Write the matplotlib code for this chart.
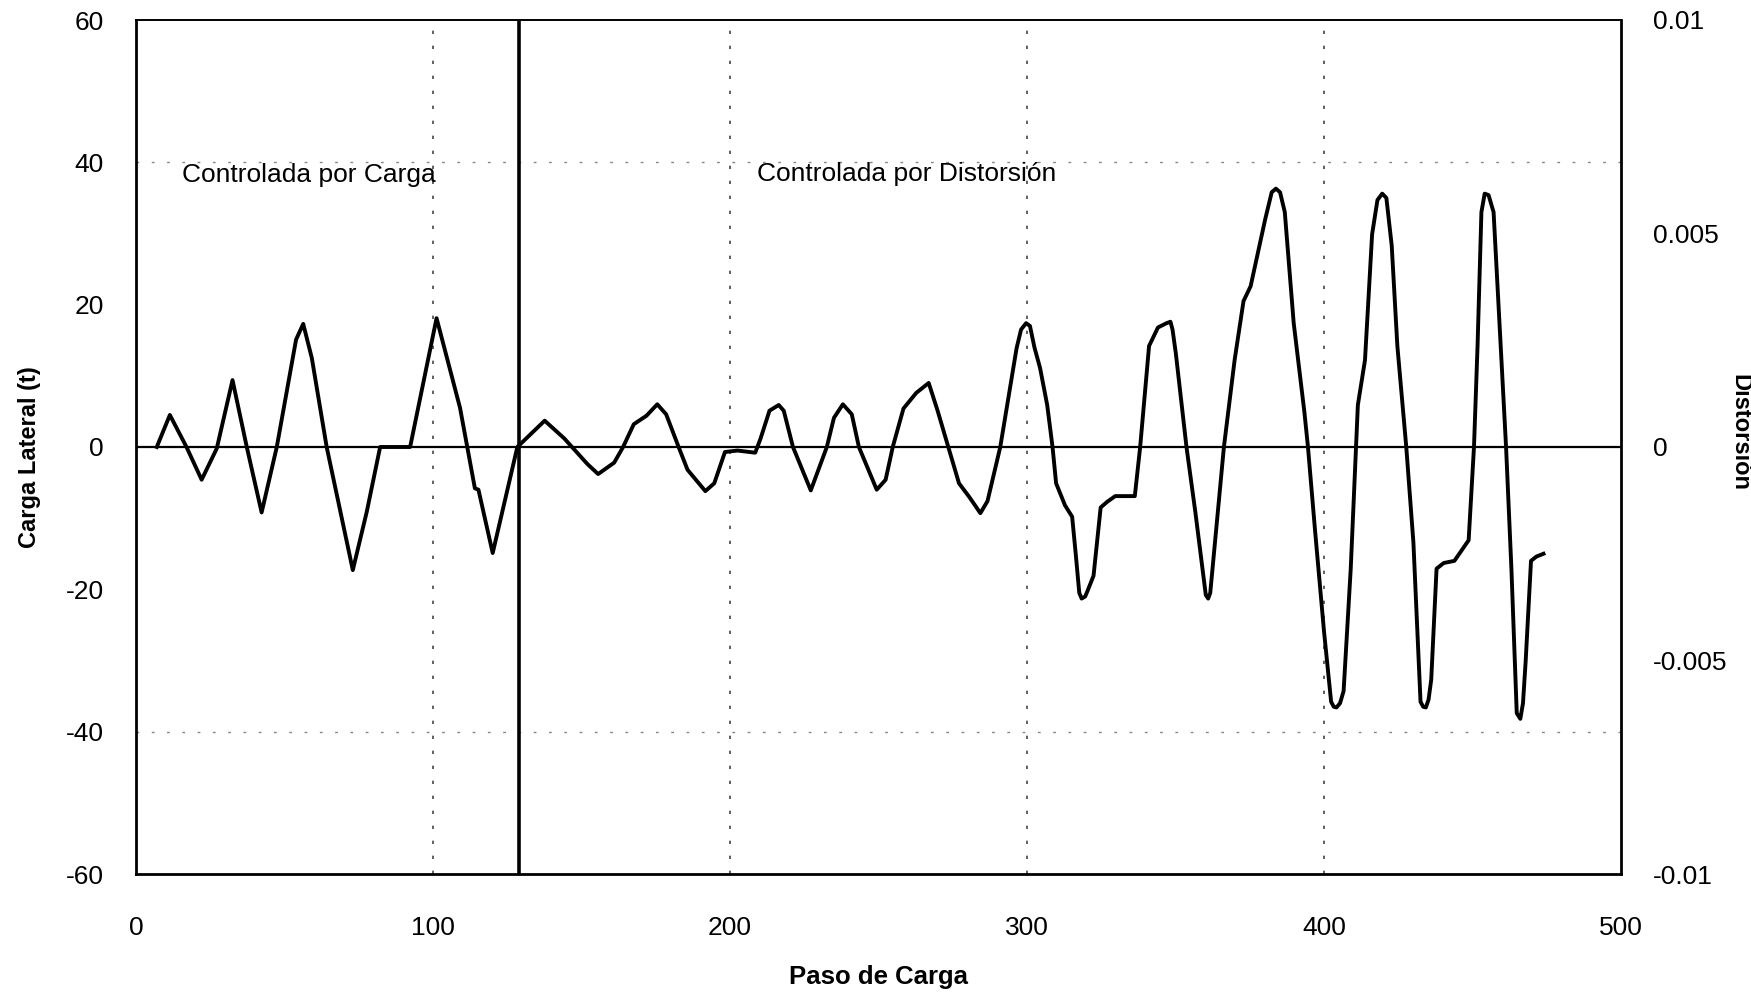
#!/usr/bin/env python3
"""Carga lateral vs paso de carga (ensayo cíclico)."""

import matplotlib
matplotlib.use("Agg")
import matplotlib.pyplot as plt

# load step / lateral load (t)
paso = [7, 11.4, 17, 22.1, 27.2, 32.5, 37.3, 42.3, 47.4, 53.9, 56.3, 59.2,
        64.2, 69.3, 73, 77.7, 82.2, 92.3, 101.2, 109.1, 114.1, 115.3, 120.1,
        128.4,
        137.6, 144.2, 152.0, 155.6, 161.0, 164.0, 167.6, 171.9, 175.5, 178.5,
        182.7, 185.7, 191.7, 194.7, 198.3, 202.5, 208.5, 210.3, 213.3, 216.4,
        218.1, 221.2, 227.2, 232.6, 235.0, 238.0, 241.0, 243.4, 249.4, 252.4,
        254.8, 258.4, 262.7, 266.9, 269.9, 273.5, 277.1, 280.7, 284.3, 286.7,
        291.0, 296.5, 298.0, 299.7, 301.0, 302.5, 304.4, 306.8, 308.6,
        309.8, 312.8, 315.2, 316.4, 317.6, 318.4, 319.6, 320.4, 322.4, 324.8,
        327.0, 329.7, 336.3, 338.1, 341.1, 344.1, 347.0, 348.3, 349.0, 350.1,
        353.7, 356.7, 360.2, 361.0, 361.7, 366.3, 369.9, 372.9, 375.3, 380.2,
        382.4, 383.8, 385.2, 386.8, 389.8, 393.4, 394.6, 397.0, 400.0, 402.4,
        403.3, 404.2, 405.4, 406.6, 409.0, 410.8, 411.4, 413.8, 416.2, 418.0,
        419.6, 421.0, 422.8, 424.7, 427.7, 430.1, 432.5, 433.4, 434.3, 435.2,
        436.1, 437.9, 440.3, 443.9, 448.7, 450.5, 451.7, 453.0, 454.1, 455.4,
        457.1, 459.5, 461.3, 463.1, 464.9, 466.1, 467.0, 467.9, 469.7, 471.5,
        473.9]
carga = [0, 4.5, 0, -4.6, -0.2, 9.4, 0, -9.2, 0, 15.1, 17.3, 12.5,
         0, -10, -17.3, -9.1, 0, 0, 18.1, 5.5, -5.8, -6, -14.9,
         0,
         3.7, 1.2, -2.4, -3.8, -2.2, 0, 3.2, 4.4, 6.0, 4.6,
         0, -3.2, -6.2, -5.1, -0.7, -0.5, -0.8, 1.2, 5.1, 5.9,
         5.1, 0, -6.1, 0, 4.1, 6.0, 4.6, 0, -6.0, -4.6,
         0, 5.4, 7.6, 9.0, 5.1, 0, -5.1, -7.1, -9.3, -7.6,
         0, 13.9, 16.5, 17.4, 17.0, 14.0, 11.1, 5.9, 0,
         -5.1, -8.2, -9.8, -15.0, -20.5, -21.3, -21.0, -20.2, -18.1, -8.5,
         -7.7, -6.9, -6.9, 0, 14.2, 16.8, 17.4, 17.6, 16.5, 13.2,
         0, -9.2, -20.8, -21.3, -20.5, 0, 12.2, 20.5, 22.6, 32.0,
         35.8, 36.3, 35.8, 33.0, 17.4, 4.9, 0, -11.8, -25.9, -35.8,
         -36.5, -36.6, -36.0, -34.3, -17.1, 0, 5.9, 12.2, 29.9, 34.7,
         35.6, 35.0, 28.3, 14.2, 0, -13.4, -35.8, -36.5, -36.6, -35.5,
         -32.7, -17.1, -16.3, -16.0, -13.1, 0, 14.2, 33.0, 35.6, 35.4,
         33.0, 14.2, 0, -17.1, -37.4, -38.2, -36.0, -30.1, -16.0, -15.4,
         -15.0]

x_ticks = [0, 100, 200, 300, 400, 500]
y_ticks = [-60, -40, -20, 0, 20, 40, 60]
dist_ticks = [-0.01, -0.005, 0, 0.005, 0.01]
dist_labels = ["-0.01", "-0.005", "0", "0.005", "0.01"]
cambio_control = 129

SANS = ["Liberation Sans", "DejaVu Sans"]
NARROW = ["Liberation Sans Narrow", "Liberation Sans", "DejaVu Sans"]
FS = 19


def main() -> None:
    plt.rcParams["axes.unicode_minus"] = False
    fig = plt.figure(figsize=(17.51, 9.94), dpi=100)
    ax = fig.add_axes([136 / 1751, 120 / 994, 1485 / 1751, 854 / 994])

    # grid
    for gx in [100, 200, 300, 400]:
        ax.axvline(gx, color="#444444", lw=1.2, ls=(0, (2, 7)), zorder=1)
    for gy in [-40, 40]:
        ax.axhline(gy, color="#888888", lw=1.0, ls=(0, (2, 9)), zorder=1)
    ax.axhline(0, color="black", lw=1.6, zorder=2)
    ax.axvline(cambio_control, color="black", lw=2.6, zorder=2)

    ax.plot(paso, carga, color="black", lw=2.8, zorder=3)

    ax.set_xlim(0, 500)
    ax.set_ylim(-60, 60)
    ax.set_xticks(x_ticks)
    ax.set_yticks(y_ticks)
    ax.tick_params(axis="x", length=0, pad=30, labelsize=FS)
    ax.tick_params(axis="y", length=0, pad=23, labelsize=FS)
    for lab in ax.get_xticklabels() + ax.get_yticklabels():
        lab.set_family(SANS)
    for side, sp in ax.spines.items():
        sp.set_linewidth(2.0 if side in ("left", "right", "bottom") else 1.4)

    ax.set_xlabel("Paso de Carga", fontsize=18.5, fontweight="bold",
                  family=NARROW)
    ax.xaxis.label.set_va("center")
    ax.xaxis.set_label_coords(0.5, -0.121)
    ax.set_ylabel("Carga Lateral (t)", fontsize=17, fontweight="bold",
                  family=NARROW)
    ax.yaxis.label.set_va("center")
    ax.yaxis.set_label_coords(-0.0714, 0.488)

    ax2 = ax.twinx()
    ax2.set_ylim(-0.01, 0.01)
    ax2.set_yticks(dist_ticks)
    ax2.set_yticklabels(dist_labels, family=SANS)
    ax2.tick_params(axis="y", length=0, pad=23, labelsize=FS)
    for sp in ax2.spines.values():
        sp.set_visible(False)

    fig.text(1728 / 1751, 1 - 432 / 994, "Distorsión", rotation=-90,
             ha="left", va="center", fontsize=17, fontweight="bold",
             family=NARROW)

    ax.text(15.5, 38.2, "Controlada por Carga", fontsize=FS,
            family=SANS, va="center", ha="left")
    ax.text(209, 38.3, "Controlada por Distorsión", fontsize=FS,
            family=SANS, va="center", ha="left")

    fig.savefig("out.png", dpi=100)
    plt.close(fig)


if __name__ == "__main__":
    main()
